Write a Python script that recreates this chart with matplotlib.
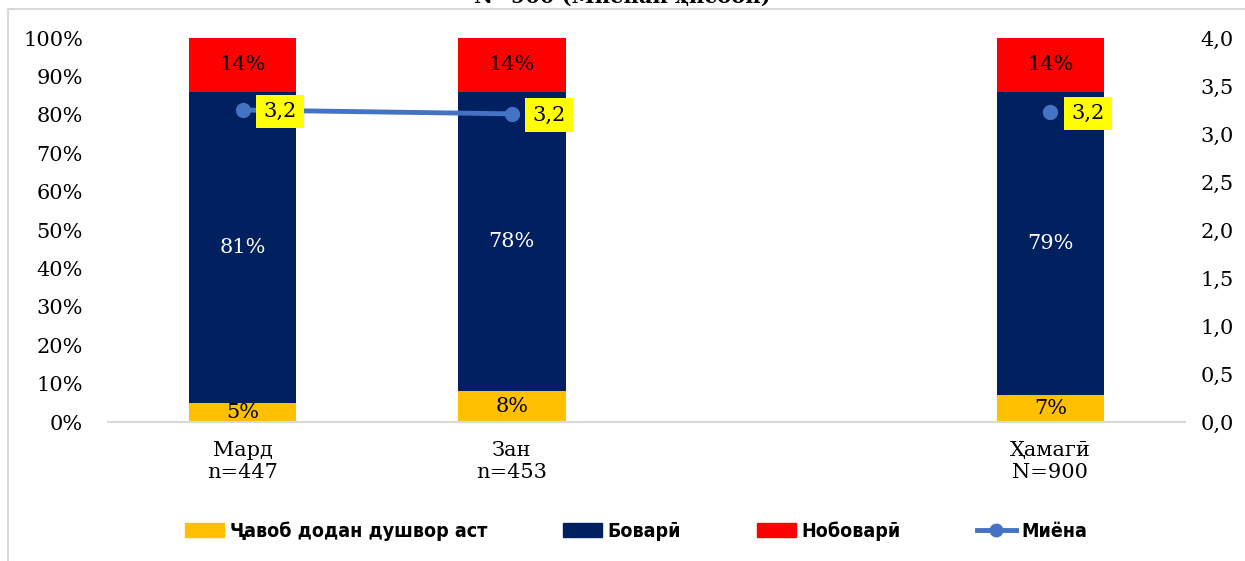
import numpy as np
import matplotlib
matplotlib.use("Agg")
import matplotlib.pyplot as plt
from matplotlib.lines import Line2D
from matplotlib.patches import Patch

categories = ["Мард\nn=447", "Зан\nn=453", "", "Ҳамагӣ\nN=900"]
hard = [5, 8, np.nan, 7]
trust = [81, 78, np.nan, 79]
distrust = [14, 14, np.nan, 14]
mean_vals = [3.25, 3.21, np.nan, 3.23]
mean_labels = ["3,2", "3,2", "", "3,2"]
series_names = ["Ҷавоб додан душвор аст", "Боварӣ", "Нобоварӣ", "Миёна"]
title_text = "N=900 (Миёнаи ҳисобӣ)"

c_yel, c_navy, c_red, c_line = "#FFC000", "#002060", "#FF0000", "#4472C4"
serif = ["DejaVu Serif"]
legfont = ["DejaVu Sans"]
fs = 15

fig = plt.figure(figsize=(12.45, 5.61), dpi=100)
ax = fig.add_axes([108/1245, 139/561, (1185-108)/1245, (422-38)/561])
x = np.arange(len(categories))
h = np.nan_to_num(hard); t = np.nan_to_num(trust); d = np.nan_to_num(distrust)
w = 0.4
ax.bar(x, h, w, color=c_yel, zorder=2)
ax.bar(x, t, w, bottom=h, color=c_navy, zorder=2)
ax.bar(x, d, w, bottom=h + t, color=c_red, zorder=2)
for i in range(len(categories)):
    if np.isnan(hard[i]):
        continue
    ax.text(x[i], h[i] / 2, f"{int(hard[i])}%", ha="center", va="center", fontsize=fs, family=serif, color="black", zorder=5)
    ax.text(x[i], h[i] + t[i] / 2, f"{int(trust[i])}%", ha="center", va="center", fontsize=fs, family=serif, color="white", zorder=5)
    ax.text(x[i], h[i] + t[i] + d[i] / 2, f"{int(distrust[i])}%", ha="center", va="center", fontsize=fs, family=serif, color="black", zorder=5)

ax.set_xlim(-0.5, len(categories) - 0.5)
ax.set_ylim(0, 100)
ax.set_yticks(np.arange(0, 101, 10))
ax.set_yticklabels([f"{v}%" for v in range(0, 101, 10)], family=serif, fontsize=fs)
ax.set_xticks(x)
ax.set_xticklabels(categories, family=serif, fontsize=fs, linespacing=1.15)
ax.tick_params(axis="both", length=0)
ax.tick_params(axis="y", pad=18)
ax.tick_params(axis="x", pad=14)
for s in ["top", "right", "left"]:
    ax.spines[s].set_visible(False)
ax.spines["bottom"].set_color("#D9D9D9")
ax.spines["bottom"].set_linewidth(1.5)
ax.set_zorder(1)

ax2 = ax.twinx()
ax2.set_ylim(0, 4)
ax2.set_yticks(np.arange(0, 4.01, 0.5))
ax2.set_yticklabels([f"{v:.1f}".replace(".", ",") for v in np.arange(0, 4.01, 0.5)], family=serif, fontsize=fs)
ax2.tick_params(axis="y", length=0, pad=11)
for s in ["top", "right", "left", "bottom"]:
    ax2.spines[s].set_visible(False)
ax2.plot(x, mean_vals, color=c_line, lw=3.5, marker="o", markersize=10, zorder=6)
for i in range(len(categories)):
    if np.isnan(mean_vals[i]):
        continue
    ax2.annotate(mean_labels[i], (x[i], mean_vals[i]), xytext=(15, -1), textcoords="offset points",
                 ha="left", va="center", fontsize=fs, family=serif,
                 bbox=dict(boxstyle="square,pad=0.35", fc="#FFFF00", ec="none"), zorder=7)

handles = [Patch(color=c_yel), Patch(color=c_navy), Patch(color=c_red),
           Line2D([0], [0], color=c_line, lw=3.5, marker="o", markersize=9)]
leg = fig.legend(handles, series_names, loc="center", bbox_to_anchor=(0.511, 0.053), ncol=4,
                 frameon=False, prop=dict(family=legfont, weight="bold", size=14, stretch="condensed"),
                 handlelength=2.0, handletextpad=0.3, columnspacing=3.9)

fig.text(0.5, 0.993, title_text, ha="center", va="baseline", fontsize=15, weight="bold", family=serif)
fig.add_artist(Line2D([7.5/1245, 7.5/1245], [0, 1 - 8.5/561], color="#D9D9D9", lw=1.5, transform=fig.transFigure))
fig.add_artist(Line2D([7.5/1245, 1], [1 - 8.5/561, 1 - 8.5/561], color="#D9D9D9", lw=1.5, transform=fig.transFigure))

fig.savefig("out.png", dpi=100)
